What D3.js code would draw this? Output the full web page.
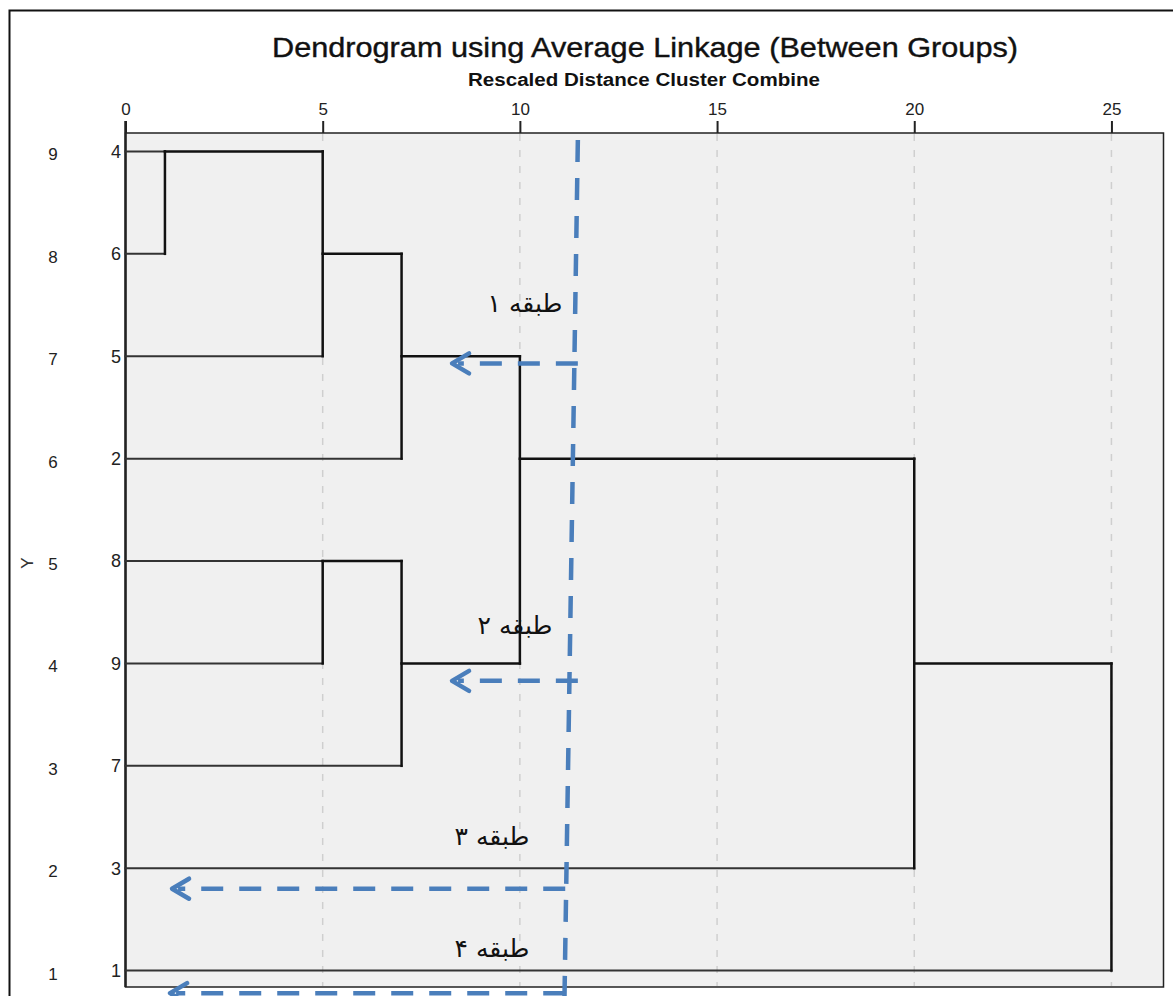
<!DOCTYPE html>
<html>
<head>
<meta charset="utf-8">
<script src="https://cdn.jsdelivr.net/npm/d3@7/dist/d3.min.js"></script>
<style>
  body { margin: 0; background: #fff; }
  svg { display: block; }
</style>
</head>
<body>
<div id="chart"></div>
<script>
// leaves top to bottom, and the case number shown left of each
const leafLabels = ["4", "6", "5", "2", "8", "9", "7", "3", "1"];
const caseNumbers = ["9", "8", "7", "6", "5", "4", "3", "2", "1"];
// merge steps: C1 is the first merge, C2 the second ...
const mergePairs = [["4", "6"], ["C1", "5"], ["C2", "2"], ["8", "9"], ["C4", "7"], ["C3", "C5"], ["C6", "3"], ["C7", "1"]];
const mergeDistances = [1, 5, 7, 5, 7, 10, 20, 25];
const tickValues = [0, 5, 10, 15, 20, 25];
// hand drawn annotations (cut line + arrows)
const bandLabels = ["طبقه ۱", "طبقه ۲", "طبقه ۳", "طبقه ۴"];
const arrowRows = [2.07, 5.17, 7.2, 8.22];
const arrowTips = [8.28, 8.28, 1.18, 1.13];
const arrowStarts = [11.47, 11.47, 11.15, 11.15];

const W = 1173, H = 996;
const svg = d3.select("#chart").append("svg").attr("width", W).attr("height", H);

// outer frame (cut by the screenshot on right and bottom)
svg.append("rect").attr("x", 9.5).attr("y", 10.5).attr("width", W + 20).attr("height", H + 20)
  .attr("fill", "none").attr("stroke", "#111").attr("stroke-width", 2);

var x = d3.scaleLinear().domain([0, 26.32]).range([125.5, 1163.5]);
var y = d3.scaleLinear().domain([-0.18, 8.16]).range([133, 987]);

svg.append("rect").attr("x", x(0)).attr("y", 133).attr("width", x(26.32) - x(0)).attr("height", 854)
  .attr("fill", "#f0f0f0").attr("stroke", "#222").attr("stroke-width", 1.5);

// grid
svg.append("g").selectAll("line").data(tickValues.slice(1)).enter().append("line")
  .attr("x1", d => x(d)).attr("x2", d => x(d)).attr("y1", 134).attr("y2", 986)
  .attr("stroke", "#cfcfcf").attr("stroke-width", 1.5).attr("stroke-dasharray", "7,9");

// top axis
const xAxis = d3.axisTop(x).tickValues(tickValues).tickSize(12).tickPadding(6);
const ax = svg.append("g").attr("transform", "translate(0,133)").call(xAxis);
ax.select(".domain").remove();
ax.selectAll("line").attr("stroke", "#222").attr("stroke-width", 2);
ax.selectAll("text").attr("font-family", "Liberation Sans, Arial, sans-serif").attr("font-size", 17).attr("fill", "#222");

svg.append("line").attr("x1", x(0)).attr("x2", x(0)).attr("y1", 121).attr("y2", 987)
  .attr("stroke", "#222").attr("stroke-width", 2.5);

// title
svg.append("text").attr("x", 645).attr("y", 57).attr("text-anchor", "middle")
  .attr("font-family", "Liberation Sans, Arial, sans-serif").attr("font-size", 28).attr("fill", "#111")
  .attr("stroke", "#111").attr("stroke-width", 0.4)
  .attr("textLength", 746).attr("lengthAdjust", "spacingAndGlyphs")
  .text("Dendrogram using Average Linkage (Between Groups)");
svg.append("text").attr("x", 644).attr("y", 86).attr("text-anchor", "middle")
  .attr("font-family", "Liberation Sans, Arial, sans-serif").attr("font-weight", "bold").attr("font-size", 18).attr("fill", "#111")
  .attr("textLength", 352).attr("lengthAdjust", "spacingAndGlyphs")
  .text("Rescaled Distance Cluster Combine");

// leaf labels
svg.append("g").selectAll("text").data(leafLabels).enter().append("text")
  .attr("x", 121).attr("y", (d, i) => y(i)).attr("dy", "0.35em").attr("text-anchor", "end")
  .attr("font-family", "Liberation Sans, Arial, sans-serif").attr("font-size", 18).attr("fill", "#222")
  .text(d => d);
svg.append("g").selectAll("text").data(caseNumbers).enter().append("text")
  .attr("x", 53).attr("y", (d, i) => y(i) + 3).attr("dy", "0.35em").attr("text-anchor", "middle")
  .attr("font-family", "Liberation Sans, Arial, sans-serif").attr("font-size", 17).attr("fill", "#222")
  .text(d => d);
svg.append("text").attr("transform", "translate(33,563) rotate(-90)").attr("text-anchor", "middle")
  .attr("font-family", "Liberation Sans, Arial, sans-serif").attr("font-size", 17).attr("fill", "#333")
  .text("Y");

// build dendrogram segments
var nodes = {};
leafLabels.forEach(function (d, i) { nodes[d] = { row: i, dist: 0, leaf: true }; });
var segs = [];
mergePairs.forEach(function (p, k) {
  var a = nodes[p[0]], b = nodes[p[1]], dist = mergeDistances[k];
  segs.push({ x1: a.dist, x2: dist, r1: a.row, r2: a.row, leaf: a.leaf });
  segs.push({ x1: b.dist, x2: dist, r1: b.row, r2: b.row, leaf: b.leaf });
  segs.push({ x1: dist, x2: dist, r1: Math.min(a.row, b.row), r2: Math.max(a.row, b.row), leaf: false });
  nodes["C" + (k + 1)] = { row: Math.floor((a.row + b.row) / 2), dist: dist, leaf: false };
});

svg.append("g").selectAll("line").data(segs).enter().append("line")
  .attr("x1", d => x(d.x1)).attr("x2", d => x(d.x2))
  .attr("y1", d => y(d.r1)).attr("y2", d => y(d.r2))
  .attr("stroke", d => d.leaf ? "#333" : "#111")
  .attr("stroke-width", d => d.leaf ? 2 : 2.5)
  .attr("stroke-linecap", "square");

// annotations
const blue = "#4a7ebb";
const ann = svg.append("g");
ann.append("line").attr("x1", x(11.47)).attr("y1", 140).attr("x2", x(11.13)).attr("y2", 1000)
  .attr("stroke", blue).attr("stroke-width", 4.5).attr("stroke-dasharray", "22,16");

arrowRows.forEach(function (r, i) {
  var yy = y(r);
  ann.append("line").attr("x1", x(arrowStarts[i])).attr("x2", x(arrowTips[i]) + 6).attr("y1", yy).attr("y2", yy)
    .attr("stroke", blue).attr("stroke-width", 4.5).attr("stroke-dasharray", "22,16");
  var tx = x(arrowTips[i]);
  ann.append("path").attr("d", "M" + (tx + 17) + "," + (yy - 10) + "L" + tx + "," + yy + "L" + (tx + 17) + "," + (yy + 10))
    .attr("fill", "none").attr("stroke", blue).attr("stroke-width", 4.5).attr("stroke-linecap", "round").attr("stroke-linejoin", "round");
});

const labelX = [525, 515, 492, 492];
const labelY = [303, 625, 836, 948];
ann.selectAll("text.band").data(bandLabels).enter().append("text")
  .attr("x", (d, i) => labelX[i]).attr("y", (d, i) => labelY[i]).attr("dy", "0.35em")
  .attr("text-anchor", "middle").attr("direction", "rtl")
  .attr("font-family", "DejaVu Sans, sans-serif").attr("font-size", 25).attr("fill", "#111")
  .text(d => d);
</script>
</body>
</html>
